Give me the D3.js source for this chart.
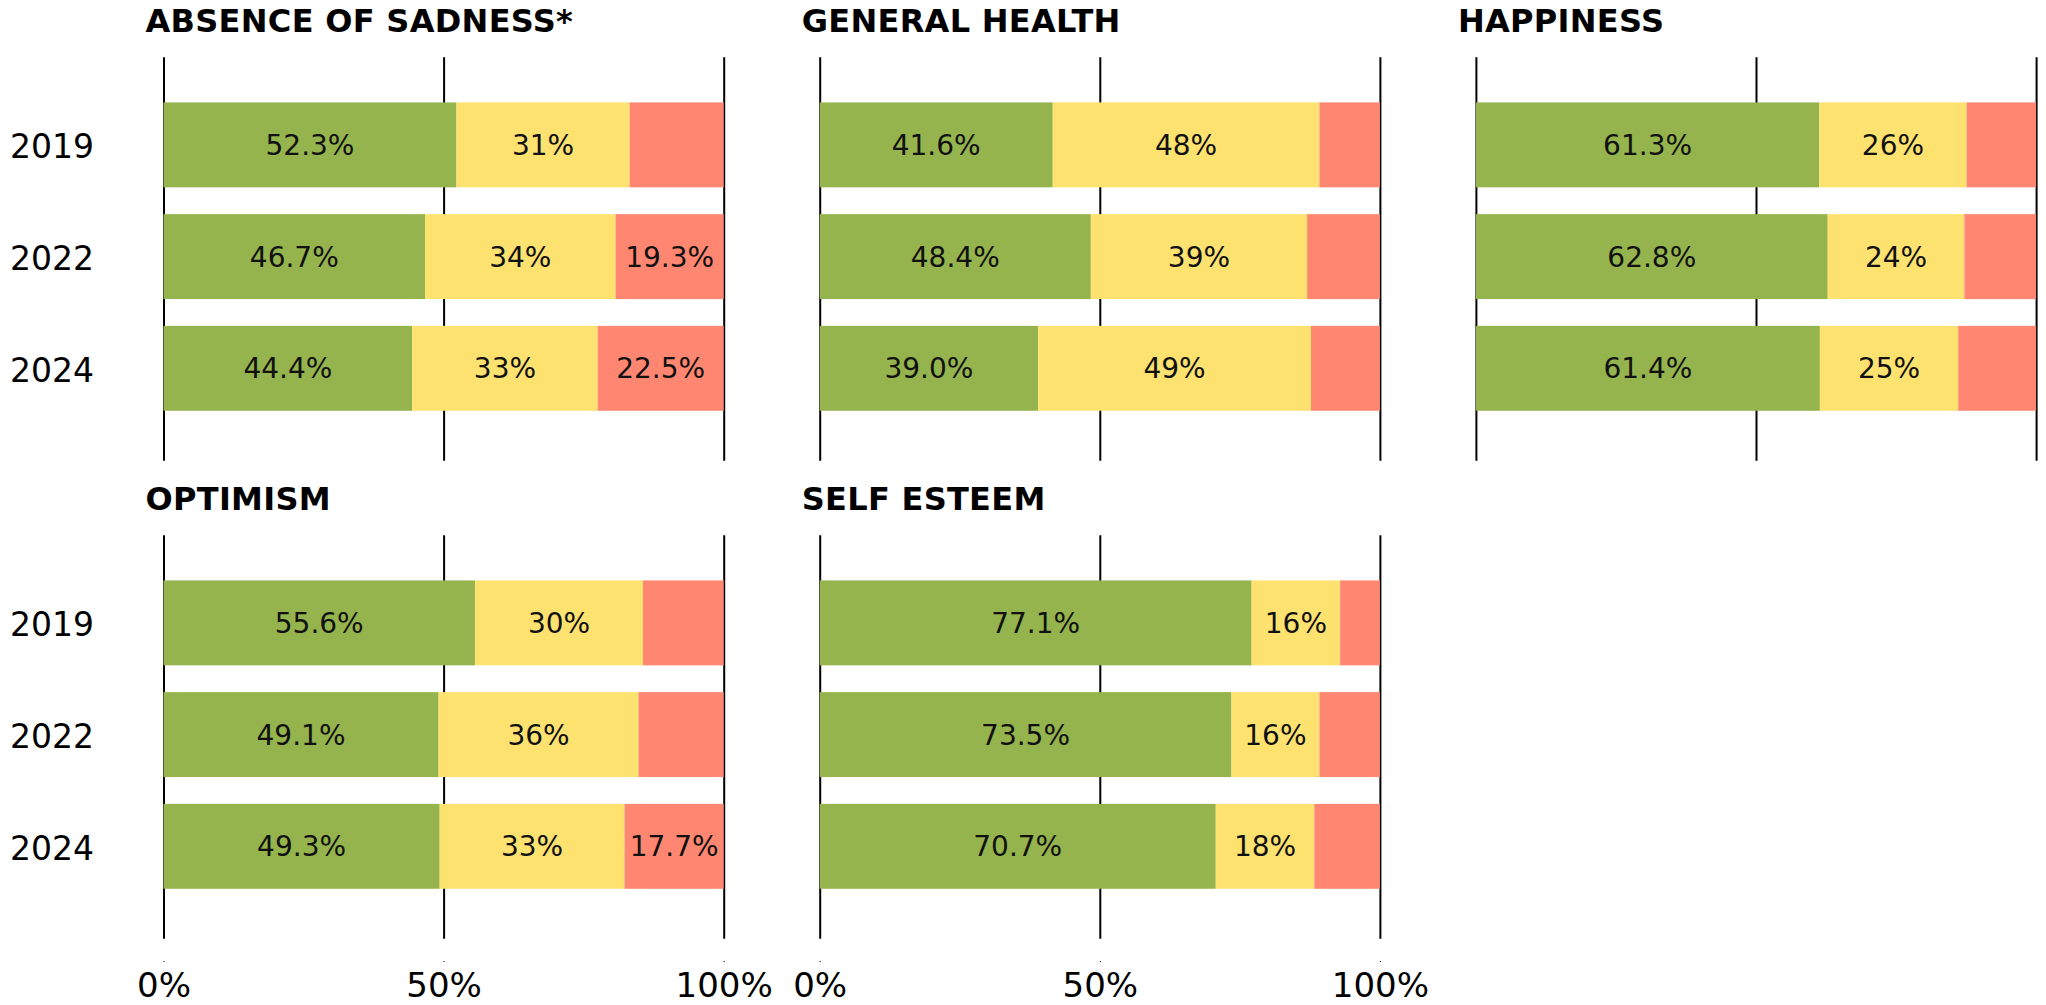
<!DOCTYPE html>
<html>
<head>
<meta charset="utf-8">
<script src="https://cdn.jsdelivr.net/npm/d3@7"></script>
<style>
    body { margin: 0; background: #fff; }
    text { font-family: "DejaVu Sans", Verdana, sans-serif; }
</style>
</head>
<body>
<svg id="chart"></svg>
<script>
const years = ['2019', '2022', '2024'];
const panelTitles = ['ABSENCE OF SADNESS*', 'GENERAL HEALTH', 'HAPPINESS', 'OPTIMISM', 'SELF ESTEEM'];
const goodValues = [
    [52.3, 46.7, 44.4],
    [41.6, 48.4, 39.0],
    [61.3, 62.8, 61.4],
    [55.6, 49.1, 49.3],
    [77.1, 73.5, 70.7]
];
const midValues = [
    [30.9, 34.0, 33.1],
    [47.6, 38.6, 48.7],
    [26.3, 24.4, 24.7],
    [30.0, 35.7, 33.0],
    [15.8, 15.7, 17.6]
];
const badValues = [
    [16.8, 19.3, 22.5],
    [10.8, 13.0, 12.3],
    [12.4, 12.8, 13.9],
    [14.4, 15.2, 17.7],
    [7.1, 10.8, 11.7]
];
const tickValues = [0, 50, 100];
const tickLabels = ['0%', '50%', '100%'];

const keys = ['good', 'mid', 'bad'];
const colors = {good: '#95b44d', mid: '#fee270', bad: '#ff8670'};

const W = 2046, H = 1005;
const opts = {
    left: 163.5, width: 560.2, colStep: 656.2, rowStep: 478,
    gridTop: 57.3, gridBottom: 460.7, bandTop: 56.6, bandBottom: 456.6,
    axisY: 961
};

let svg = d3.select('#chart').attr('width', W).attr('height', H);

panelTitles.forEach((title, i) => drawPanel(i, title));

function drawPanel(i, title) {
    let col = i % 3, row = Math.floor(i / 3);
    let x0 = opts.left + col * opts.colStep;
    let g = svg.append('g').attr('transform', `translate(0, ${row * opts.rowStep})`);

    let table = years.map((y, j) => ({
        year: y, good: goodValues[i][j], mid: midValues[i][j], bad: badValues[i][j]
    }));
    let series = d3.stack().keys(keys)(table);

    let xScale = d3.scaleLinear().domain([0, 100]).range([x0, x0 + opts.width]);
    let yScale = d3.scaleBand()
        .domain(years)
        .range([opts.bandTop, opts.bandBottom])
        .paddingInner(0.24)
        .paddingOuter(0.41);

    // grid lines behind the bars
    let grid = d3.axisBottom(xScale)
        .tickValues(tickValues)
        .tickSize(-(opts.gridBottom - opts.gridTop))
        .tickFormat('');
    g.append('g')
        .attr('transform', `translate(0, ${opts.gridBottom})`)
        .call(grid)
        .call(a => a.select('.domain').remove())
        .call(a => a.selectAll('line').attr('stroke', '#000').attr('stroke-width', 2));

    let layers = g.selectAll('g.layer')
        .data(series)
        .join('g')
        .attr('class', 'layer')
        .attr('fill', d => colors[d.key]);
    layers.selectAll('rect')
        .data(d => d)
        .join('rect')
        .attr('x', d => xScale(d[0]))
        .attr('width', d => xScale(d[1]) - xScale(d[0]))
        .attr('y', d => yScale(d.data.year))
        .attr('height', yScale.bandwidth());

    // value labels
    series.forEach(s => {
        let shown = s.filter(d => s.key !== 'bad' || d.data.bad >= 17);
        g.selectAll(null)
            .data(shown)
            .join('text')
            .attr('x', d => (xScale(d[0]) + xScale(d[1])) / 2)
            .attr('y', d => yScale(d.data.year) + yScale.bandwidth() / 2)
            .attr('dy', '0.36em')
            .attr('text-anchor', 'middle')
            .attr('font-size', 28)
            .attr('fill', '#111')
            .text(d => s.key === 'mid'
                ? d3.format('.0f')(d.data.mid) + '%'
                : d3.format('.1f')(d.data[s.key]) + '%');
    });

    g.append('text')
        .attr('x', x0 - 18)
        .attr('y', 32.3)
        .attr('font-size', 32)
        .attr('font-weight', 'bold')
        .attr('letter-spacing', 0.3)
        .attr('fill', '#000')
        .text(title);

    if (col === 0) {
        g.selectAll(null)
            .data(years)
            .join('text')
            .attr('x', 10)
            .attr('y', d => yScale(d) + yScale.bandwidth() / 2)
            .attr('dy', '0.4em')
            .attr('font-size', 33)
            .attr('fill', '#000')
            .text(d => d);
    }

    if (row === 1) {
        let xAxis = d3.axisBottom(xScale)
            .tickValues(tickValues)
            .tickSize(1)
            .tickPadding(11)
            .tickFormat((d, k) => tickLabels[k]);
        svg.append('g')
            .attr('transform', `translate(0, ${opts.axisY})`)
            .call(xAxis)
            .call(a => a.select('.domain').remove())
            .call(a => a.selectAll('line').attr('stroke', '#000'))
            .call(a => a.selectAll('text')
                .attr('font-size', 34)
                .attr('fill', '#000')
                .style('font-family', '"DejaVu Sans", Verdana, sans-serif'));
    }
}
</script>
</body>
</html>
